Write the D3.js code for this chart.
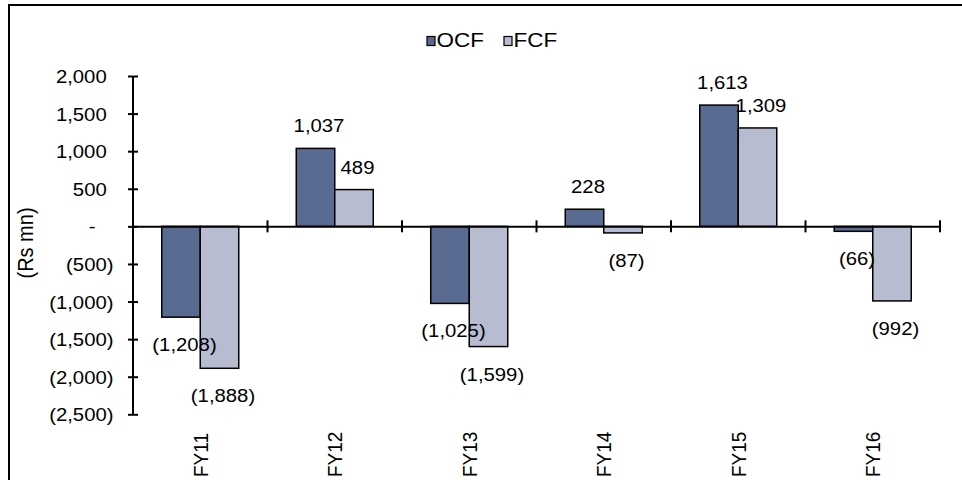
<!DOCTYPE html>
<html>
<head>
<meta charset="utf-8">
<script src="https://cdn.jsdelivr.net/npm/d3@7"></script>
<style>
  html, body { margin: 0; padding: 0; background: #ffffff; }
  svg { display: block; font-family: "Liberation Sans", Arial, sans-serif; }
</style>
</head>
<body>
<svg id="chart" width="962" height="480"></svg>
<script>
// Operating and free cash flow, Rs mn
const years = ["FY11", "FY12", "FY13", "FY14", "FY15", "FY16"];
const seriesNames = ["OCF", "FCF"];
const ocf = [-1208, 1037, -1025, 228, 1613, -66];
const fcf = [-1888, 489, -1599, -87, 1309, -992];
const yTicks = [2000, 1500, 1000, 500, 0, -500, -1000, -1500, -2000, -2500];
const yTitle = "(Rs mn)";

const colors = { OCF: "#596a93", FCF: "#b7bcd1" };
const fontSize = 19;
const stretch = 1.07;

const svg = d3.select("#chart");

// outer frame
svg.append("rect")
  .attr("x", 9).attr("y", 5)
  .attr("width", 980).attr("height", 500)
  .attr("fill", "none").attr("stroke", "#000").attr("stroke-width", 2);

const x = d3.scaleBand().domain(years).range([133, 940]).padding(0);
const outer = (x.bandwidth() / 38.5 - 2) / 2;
const x1 = d3.scaleBand().domain(seriesNames).range([0, x.bandwidth()])
  .paddingInner(0).paddingOuter(outer);
const y = d3.scaleLinear().domain([-2500, 2000]).range([414.3, 76]);

// number format: 1,234 / (1,234) / -
const fmt = d3.format(",");
function label(v) {
  if (v === 0) return "-";
  return v < 0 ? "(" + fmt(-v) + ")" : fmt(v);
}

// horizontally stretched text helper
function txt(g, tx, ty, str, anchor, extra) {
  return g.append("text")
    .attr("transform", `translate(${tx},${ty}) scale(${stretch},1)` + (extra || ""))
    .attr("text-anchor", anchor)
    .attr("font-size", fontSize)
    .attr("fill", "#000")
    .text(str);
}

// y axis
const yAxis = svg.append("g")
  .attr("transform", `translate(${x.range()[0]},0)`)
  .call(d3.axisLeft(y).tickValues(yTicks).tickSizeOuter(0).tickFormat(""));
yAxis.select(".domain").attr("stroke", "#000").attr("stroke-width", 2)
  .attr("d", `M0,${y(2000)}V${y(-2500)}`);
yAxis.selectAll(".tick line").attr("x1", -5).attr("x2", 5)
  .attr("stroke", "#000").attr("stroke-width", 2);

// y tick labels, accounting style alignment
const yLab = svg.append("g");
const parenW = 0.333 * fontSize * stretch;
const digitW = 0.556 * fontSize * stretch;
yTicks.forEach(v => {
  let xr = 113.5;
  if (v > 0) xr -= parenW;
  if (v === 0) xr -= parenW + digitW;
  txt(yLab, xr, y(v) + 7, label(v), "end");
});

// y title
svg.append("text")
  .attr("transform", `translate(33,243) scale(${stretch},1) rotate(-90)`)
  .attr("text-anchor", "middle")
  .attr("font-size", 20)
  .text(yTitle);

// bars
const groups = svg.append("g").selectAll("g")
  .data(years.map((yr, i) => ({ yr, vals: [{ s: "OCF", v: ocf[i] }, { s: "FCF", v: fcf[i] }] })))
  .join("g")
  .attr("transform", d => `translate(${x(d.yr)},0)`);

groups.selectAll("rect")
  .data(d => d.vals)
  .join("rect")
  .attr("x", d => x1(d.s))
  .attr("width", x1.bandwidth())
  .attr("y", d => y(Math.max(0, d.v)))
  .attr("height", d => Math.abs(y(d.v) - y(0)))
  .attr("fill", d => colors[d.s])
  .attr("stroke", "#000")
  .attr("stroke-width", 1.5);

// x axis line at zero with ticks on category boundaries
const xAxis = svg.append("g")
  .attr("transform", `translate(0,${y(0)})`)
  .call(d3.axisBottom(x).tickSize(0).tickSizeOuter(0).tickFormat(""));
xAxis.select(".domain").attr("stroke", "#000").attr("stroke-width", 2);
xAxis.selectAll(".tick").remove();
xAxis.selectAll("line.bound")
  .data(years)
  .join("line")
  .attr("class", "bound")
  .attr("x1", d => x(d) + x.step()).attr("x2", d => x(d) + x.step())
  .attr("y1", -6).attr("y2", 6)
  .attr("stroke", "#000").attr("stroke-width", 2);

// value labels
const vl = svg.append("g");
years.forEach((yr, i) => {
  [{ s: "OCF", v: ocf[i] }, { s: "FCF", v: fcf[i] }].forEach(d => {
    const cx = x(yr) + x1(d.s) + x1.bandwidth() / 2 + 3.5;
    const cy = d.v >= 0 ? y(d.v) - 16 : y(d.v) + 34;
    txt(vl, cx, cy, label(d.v), "middle");
  });
});

// category labels, rotated
const cl = svg.append("g");
years.forEach(yr => {
  cl.append("text")
    .attr("transform", `translate(${x(yr) + x.bandwidth() / 2 + 7.5},477) scale(${stretch},1) rotate(-90)`)
    .attr("text-anchor", "start")
    .attr("font-size", fontSize)
    .text(yr);
});

// legend
const leg = svg.append("g");
const legItems = [{ s: "OCF", x: 427 }, { s: "FCF", x: 504 }];
legItems.forEach(it => {
  leg.append("rect")
    .attr("x", it.x).attr("y", 36.5)
    .attr("width", 8).attr("height", 9)
    .attr("fill", colors[it.s]).attr("stroke", "#000").attr("stroke-width", 1.2);
  leg.append("text")
    .attr("transform", `translate(${it.x + 9.5},46.5) scale(${stretch},1)`)
    .attr("font-size", 21)
    .text(it.s);
});
</script>
</body>
</html>
